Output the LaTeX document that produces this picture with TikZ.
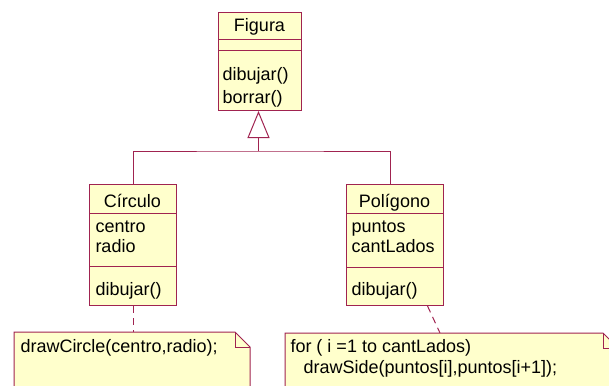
\documentclass[tikz,border=0pt]{standalone}
\usepackage{fontspec}
\setmainfont{Liberation Sans}
\usepackage{tikz}
\usetikzlibrary{arrows.meta}

\definecolor{umlborder}{RGB}{160,35,80}
\definecolor{umlfill}{RGB}{255,255,204}
\newcommand{\umlfont}{\fontsize{18}{22}\selectfont}

\begin{document}
\begin{tikzpicture}[x=1pt,y=-1pt,line width=1pt,
  classbox/.style={draw=umlborder,fill=umlfill,anchor=north west,inner sep=0pt},
  umlline/.style={draw=umlborder},
  notebox/.style={draw=umlborder,fill=umlfill},
  notelink/.style={draw=umlborder,dash pattern=on 7pt off 5pt},
  classname/.style={anchor=base,inner sep=0pt,font=\umlfont},
  member/.style={anchor=base west,inner sep=0pt,font=\umlfont}]
  \useasboundingbox (0,0) rectangle (609,385);
  \clip (0,0) rectangle (609,385);

  % Figura
  \node[classbox,minimum width=83pt,minimum height=98pt] (figura) at (218,12) {};
  \draw[umlline] (218,40) -- (301,40);
  \draw[umlline] (218,51) -- (301,51);
  \node[classname] (figuraname) at (259.5,32) {Figura};
  \node[member] (figuradibujar) at (222,81) {dibujar()};
  \node[member] (figuraborrar) at (222,103) {borrar()};

  % Circulo
  \node[classbox,minimum width=87pt,minimum height=121pt] (circulo) at (89,184) {};
  \draw[umlline] (89,213) -- (176,213);
  \draw[umlline] (89,266) -- (176,266);
  \node[classname] (circuloname) at (132.5,207) {Círculo};
  \node[member] (circulocentro) at (95,232) {centro};
  \node[member] (circuloradio) at (95,252) {radio};
  \node[member] (circulodibujar) at (95,295) {dibujar()};

  % Poligono
  \node[classbox,minimum width=97pt,minimum height=121pt] (poligono) at (346,184) {};
  \draw[umlline] (346,213) -- (443,213);
  \draw[umlline] (346,267) -- (443,267);
  \node[classname] (poligononame) at (394.5,207) {Polígono};
  \node[member] (poligonopuntos) at (351,232) {puntos};
  \node[member] (poligonolados) at (351,252) {cantLados};
  \node[member] (poligonodibujar) at (351,295) {dibujar()};

  % generalizacion
  \coordinate (gentip) at ([xshift=-1.5pt]figura.south);
  \path (gentip) ++(0,40) coordinate (genjoin);
  \draw[umlline] (circulo.north) |- (genjoin) -| ([xshift=-4.5pt]poligono.north);
  \draw[umlline,-{Triangle[open,length=27pt,width=22pt]}] (genjoin) -- (gentip);

  % notas
  \coordinate (circnotetop) at (133,332);
  \draw[notelink] (circulo.south) -- (circnotetop);
  \draw[notebox] (14,332) -- (235,332) -- (250,347) -- (250,400) -- (14,400) -- cycle;
  \draw[umlline] (235,332) |- (250,347);
  \node[member] (circnote) at (20,352) {drawCircle(centro,radio);};

  \coordinate (polnotetop) at (440,333);
  \draw[notelink] ([xshift=32.5pt]poligono.south) -- (polnotetop);
  \draw[notebox] (285,333) -- (603,333) -- (618,348) -- (618,400) -- (285,400) -- cycle;
  \draw[umlline] (603,333) |- (618,348);
  \node[member] (polnotefor) at (290,352) {for ( i =1 to cantLados)};
  \node[member] (polnoteside) at (303,373) {drawSide(puntos[i],puntos[i+1]);};
\end{tikzpicture}
\end{document}
